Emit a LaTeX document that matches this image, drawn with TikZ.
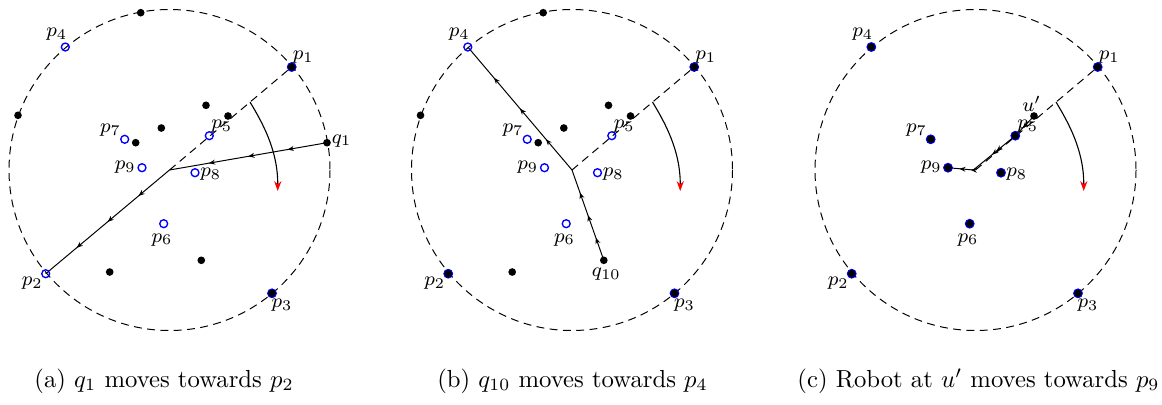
\documentclass[tikz,border=0pt]{standalone}
\usetikzlibrary{arrows.meta,decorations.markings,calc}
\newcommand\defpts[1]{%
 \coordinate (#1c) at (0,0);
 \coordinate (#1top) at (-28.8,-157.3);
 \coordinate (#1p4) at (-104.2,-123);
 \coordinate (#1p1) at (122.2,-103);
 \coordinate (#1left) at (-151.5,-54.7);
 \coordinate (#1q1) at (157.5,-27.3);
 \coordinate (#1p2) at (-123.8,103.7);
 \coordinate (#1p3) at (102.5,123.3);
 \coordinate (#1d1) at (36.5,-64.7);
 \coordinate (#1u) at (58.5,-54);
 \coordinate (#1d3) at (-8.2,-42);
 \coordinate (#1d4) at (-33.8,-27.3);
 \coordinate (#1p7) at (-44.8,-30.7);
 \coordinate (#1p5) at (39.8,-34.3);
 \coordinate (#1p9) at (-27.5,-2.3);
 \coordinate (#1p8) at (25.5,2.7);
 \coordinate (#1p6) at (-5.8,53.7);
 \coordinate (#1q10) at (31.8,90.3);
 \coordinate (#1d6) at (-59.8,102);
 \coordinate (#1as) at (80.5,-68);
 \coordinate (#1ac1) at (92.5,-48);
 \coordinate (#1ac2) at (108.5,-20);
 \coordinate (#1ae) at (108.2,21);
}
\tikzset{
 blk/.style={circle,fill=black,inner sep=0pt,minimum size=3.1pt},
 bopen/.style={circle,draw=blue,line width=0.55pt,inner sep=0pt,minimum size=3.2pt},
 bfill/.style={circle,fill=black,draw=blue,line width=0.35pt,inner sep=0pt,minimum size=3.6pt},
 lbl/.style={inner sep=0pt,font=\footnotesize},
 captxt/.style={inner sep=0pt,font=\normalsize},
 bound/.style={dash pattern=on 3.2pt off 2.2pt},
 ray/.style={dash pattern=on 3.2pt off 2.2pt},
 turn/.style={line width=0.45pt,-{Stealth[color=red,length=4pt,width=2.9pt]}},
 mk/.style={postaction={decorate,decoration={markings,
   mark=at position #1 with {\arrow{Stealth[length=2.5pt,width=2pt]}}}}},
 move/.style={mk=0.25,mk=0.5,mk=0.75},
}
\begin{document}
\begin{tikzpicture}[x=0.405pt,y=-0.405pt]
\useasboundingbox (0,0) rectangle (1162,404);
% ---------------- panel (a)
\begin{scope}[shift={(169.5,170)}]
 \defpts{a-}
 \draw[bound] (a-c) circle[radius=160.5];
 \draw[ray] (a-c) -- (a-p1);
 \draw[move] (a-q1) -- (a-c);
 \draw[move] (a-c) -- (a-p2);
 \draw[turn] (a-as) .. controls (a-ac1) and (a-ac2) .. (a-ae);
 \node[blk] (a-ntop) at (a-top) {};
 \node[blk] (a-nleft) at (a-left) {};
 \node[blk] (a-nq1) at (a-q1) {};
 \node[blk] (a-nd1) at (a-d1) {};
 \node[blk] (a-nu) at (a-u) {};
 \node[blk] (a-nd3) at (a-d3) {};
 \node[blk] (a-nd4) at (a-d4) {};
 \node[blk] (a-nq10) at (a-q10) {};
 \node[blk] (a-nd6) at (a-d6) {};
 \node[bfill] (a-np1) at (a-p1) {};
 \node[bfill] (a-np3) at (a-p3) {};
 \node[bopen] (a-np2) at (a-p2) {};
 \node[bopen] (a-np4) at (a-p4) {};
 \node[bopen] (a-np5) at (a-p5) {};
 \node[bopen] (a-np6) at (a-p6) {};
 \node[bopen] (a-np7) at (a-p7) {};
 \node[bopen] (a-np8) at (a-p8) {};
 \node[bopen] (a-np9) at (a-p9) {};
 \node[lbl] (a-l1) at ($(a-p1)+(11.6,-9.5)$) {$p_1$};
 \node[lbl] (a-l2) at ($(a-p2)+(-13.4,9.3)$) {$p_2$};
 \node[lbl] (a-l3) at ($(a-p3)+(10,11.7)$) {$p_3$};
 \node[lbl] (a-l4) at ($(a-p4)+(-8.6,-13)$) {$p_4$};
 \node[lbl] (a-l5) at ($(a-p5)+(12.4,-9.7)$) {$p_5$};
 \node[lbl] (a-l6) at ($(a-p6)+(-1.7,16)$) {$p_6$};
 \node[lbl] (a-l7) at ($(a-p7)+(-14.2,-9)$) {$p_7$};
 \node[lbl] (a-l8) at ($(a-p8)+(15.7,1.5)$) {$p_8$};
 \node[lbl] (a-l9) at ($(a-p9)+(-16.7,-0.5)$) {$p_9$};
 \node[lbl] (a-lq1) at ($(a-q1)+(14.7,-1.9)$) {$q_1$};
\end{scope}
\node[captxt] (capa) at (164,381) {(a) $q_1$ moves towards $p_2$};
% ---------------- panel (b)
\begin{scope}[shift={(572,170)}]
 \defpts{b-}
 \draw[bound] (b-c) circle[radius=160.5];
 \draw[ray] (b-c) -- (b-p1);
 \draw[move] (b-q10) -- (b-c);
 \draw[move] (b-c) -- (b-p4);
 \draw[turn] (b-as) .. controls (b-ac1) and (b-ac2) .. (b-ae);
 \node[blk] (b-ntop) at (b-top) {};
 \node[blk] (b-nleft) at (b-left) {};
 \node[blk] (b-nd1) at (b-d1) {};
 \node[blk] (b-nu) at (b-u) {};
 \node[blk] (b-nd3) at (b-d3) {};
 \node[blk] (b-nd4) at (b-d4) {};
 \node[blk] (b-nq10) at (b-q10) {};
 \node[blk] (b-nd6) at (b-d6) {};
 \node[bfill] (b-np1) at (b-p1) {};
 \node[bfill] (b-np2) at (b-p2) {};
 \node[bfill] (b-np3) at (b-p3) {};
 \node[bopen] (b-np4) at (b-p4) {};
 \node[bopen] (b-np5) at (b-p5) {};
 \node[bopen] (b-np6) at (b-p6) {};
 \node[bopen] (b-np7) at (b-p7) {};
 \node[bopen] (b-np8) at (b-p8) {};
 \node[bopen] (b-np9) at (b-p9) {};
 \node[lbl] (b-l1) at ($(b-p1)+(11.6,-9.5)$) {$p_1$};
 \node[lbl] (b-l2) at ($(b-p2)+(-13.4,9.3)$) {$p_2$};
 \node[lbl] (b-l3) at ($(b-p3)+(10,11.7)$) {$p_3$};
 \node[lbl] (b-l4) at ($(b-p4)+(-8.6,-13)$) {$p_4$};
 \node[lbl] (b-l5) at ($(b-p5)+(12.4,-9.7)$) {$p_5$};
 \node[lbl] (b-l6) at ($(b-p6)+(-1.7,16)$) {$p_6$};
 \node[lbl] (b-l7) at ($(b-p7)+(-14.2,-9)$) {$p_7$};
 \node[lbl] (b-l8) at ($(b-p8)+(15.7,1.5)$) {$p_8$};
 \node[lbl] (b-l9) at ($(b-p9)+(-16.7,-0.5)$) {$p_9$};
 \node[lbl] (b-lq10) at ($(b-q10)+(2.5,14.3)$) {$q_{10}$};
\end{scope}
\node[captxt] (capb) at (572.5,381) {(b) $q_{10}$ moves towards $p_4$};
% ---------------- panel (c)
\begin{scope}[shift={(975.5,170)}]
 \defpts{c-}
 \coordinate (c-j) at (-2.2,0);
 \draw[bound] (c-c) circle[radius=160.5];
 \draw[ray] (c-c) -- (c-p1);
 \draw[mk=0.6] (c-u) -- (c-p5);
 \draw[mk=0.45,mk=0.55] (c-p5) -- (c-j);
 \draw[mk=0.1,mk=0.55] (c-j) -- (c-p9);
 \draw[turn] (c-as) .. controls (c-ac1) and (c-ac2) .. (c-ae);
 \node[blk] (c-nu) at (c-u) {};
 \node[bfill] (c-np1) at (c-p1) {};
 \node[bfill] (c-np2) at (c-p2) {};
 \node[bfill] (c-np3) at (c-p3) {};
 \node[bfill] (c-np4) at (c-p4) {};
 \node[bfill] (c-np5) at (c-p5) {};
 \node[bfill] (c-np6) at (c-p6) {};
 \node[bfill] (c-np7) at (c-p7) {};
 \node[bfill] (c-np8) at (c-p8) {};
 \node[bfill] (c-np9) at (c-p9) {};
 \node[lbl] (c-l1) at ($(c-p1)+(11.6,-9.5)$) {$p_1$};
 \node[lbl] (c-l2) at ($(c-p2)+(-13.4,9.3)$) {$p_2$};
 \node[lbl] (c-l3) at ($(c-p3)+(10,11.7)$) {$p_3$};
 \node[lbl] (c-l4) at ($(c-p4)+(-8.6,-13)$) {$p_4$};
 \node[lbl] (c-l5) at ($(c-p5)+(12.4,-9.7)$) {$p_5$};
 \node[lbl] (c-l6) at ($(c-p6)+(-1.7,16)$) {$p_6$};
 \node[lbl] (c-l7) at ($(c-p7)+(-14.2,-9)$) {$p_7$};
 \node[lbl] (c-l8) at ($(c-p8)+(15.7,1.5)$) {$p_8$};
 \node[lbl] (c-l9) at ($(c-p9)+(-16.7,-0.5)$) {$p_9$};
 \node[lbl] (c-lu) at ($(c-u)+(-2.3,-12)$) {$u'$};
\end{scope}
\node[captxt] (capc) at (978.5,381) {(c) Robot at $u'$ moves towards $p_9$};
\end{tikzpicture}
\end{document}
